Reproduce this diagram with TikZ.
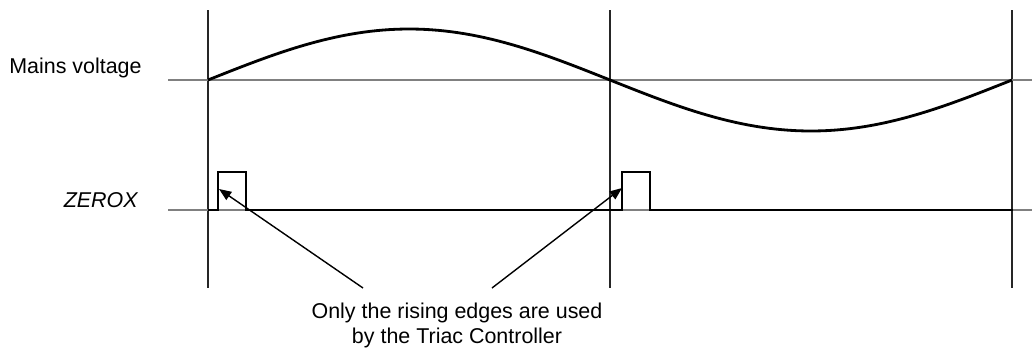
\documentclass[tikz,border=0pt]{standalone}
\usepackage{fontspec}
\setmainfont{Liberation Sans}
\usetikzlibrary{arrows.meta}
\tikzset{
  axisline/.style={gray, line width=0.6pt},
  markline/.style={black!85, line width=0.6pt},
  signal/.style={line width=1.6pt, line join=miter},
  pointer/.style={line width=0.8pt, -{Triangle[length=7pt,width=5.5pt]}},
  lbl/.style={font=\fontsize{12.2}{14.2}\selectfont, inner sep=0pt},
}
\begin{document}
\begin{tikzpicture}[x=0.02cm, y=-0.02cm]
  \useasboundingbox (0,0) rectangle (1032,349);
  % time marks
  \foreach \t in {208,610,1012}
    \draw[markline] (\t,10) -- (\t,288);
  % mains voltage
  \node[lbl, anchor=base west] (mains) at (9,73) {Mains voltage};
  \draw[axisline] (168,80) -- (1032,80);
  \draw[signal] plot[domain=0:360, samples=120] ({208+\x*2.23333}, {80-51*sin(\x)});
  % zerox pulses
  \node[lbl, anchor=base east, font=\fontsize{12.2}{14.2}\selectfont\itshape] (zerox) at (138,207) {ZEROX};
  \draw[axisline] (168,210) -- (1032,210);
  \draw[signal] (208,210) -- (218,210) -- (218,172) -- (246,172) -- (246,210)
    -- (622,210) -- (622,172) -- (650,172) -- (650,210) -- (1013,210);
  % note and arrows
  \node[lbl, align=center, anchor=base] (note) at (457,343)
    {Only the rising edges are used\\by the Triac Controller};
  \coordinate (tailA) at (363,288);
  \coordinate (tailB) at (492,288);
  \coordinate (edgeA) at (219,189);
  \coordinate (edgeB) at (622,188);
  \draw[pointer] (tailA) -- (edgeA);
  \draw[pointer] (tailB) -- (edgeB);
\end{tikzpicture}
\end{document}
